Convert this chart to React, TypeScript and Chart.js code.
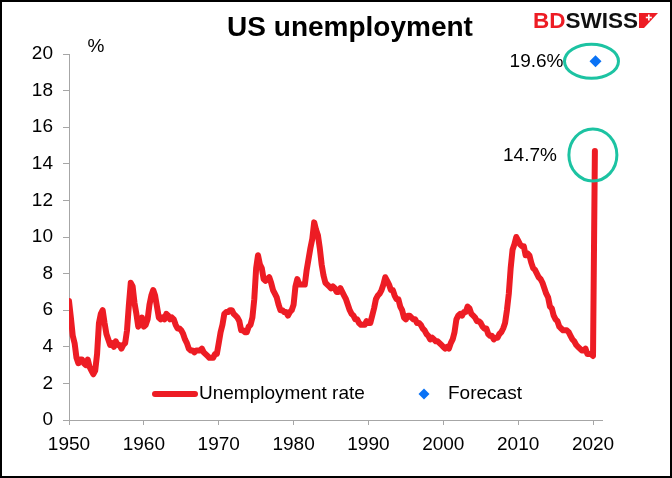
import React, { useEffect, useRef } from "react";
import { Chart, registerables } from "chart.js";

Chart.register(...registerables);

// Quarterly US unemployment rate (%), starting 1950 Q1
const firstYear = 1950;
const quarterlyRate = [
  6.5, 5.6, 4.6, 4.2, // 1950
  3.4, 3.1, 3.3, 3.3, // 1951
  3.1, 3.0, 3.3, 2.9, // 1952
  2.7, 2.5, 2.7, 3.6, // 1953
  5.3, 5.8, 6.0, 5.3, // 1954
  4.7, 4.4, 4.1, 4.2, // 1955
  4.0, 4.3, 4.1, 4.1, // 1956
  3.9, 4.1, 4.2, 4.9, // 1957
  6.3, 7.5, 7.3, 6.4, // 1958
  5.8, 5.1, 5.3, 5.6, // 1959
  5.1, 5.2, 5.5, 6.3, // 1960
  6.8, 7.1, 6.8, 6.2, // 1961
  5.6, 5.5, 5.6, 5.5, // 1962
  5.8, 5.7, 5.5, 5.6, // 1963
  5.5, 5.2, 5.0, 5.0, // 1964
  4.9, 4.7, 4.4, 4.2, // 1965
  3.9, 3.8, 3.8, 3.7, // 1966
  3.8, 3.8, 3.8, 3.9, // 1967
  3.7, 3.6, 3.5, 3.4, // 1968
  3.4, 3.4, 3.6, 3.6, // 1969
  4.2, 4.8, 5.2, 5.8, // 1970
  5.9, 5.9, 6.0, 6.0, // 1971
  5.8, 5.7, 5.6, 5.4, // 1972
  4.9, 4.9, 4.8, 4.8, // 1973
  5.1, 5.2, 5.6, 6.6, // 1974
  8.3, 9.0, 8.5, 8.3, // 1975
  7.7, 7.6, 7.7, 7.8, // 1976
  7.5, 7.1, 6.9, 6.7, // 1977
  6.3, 6.0, 6.0, 5.9, // 1978
  5.9, 5.7, 5.9, 6.0, // 1979
  6.3, 7.3, 7.7, 7.4, // 1980
  7.4, 7.4, 7.4, 8.2, // 1981
  8.8, 9.4, 9.9, 10.8, // 1982
  10.4, 10.1, 9.4, 8.5, // 1983
  7.9, 7.5, 7.4, 7.3, // 1984
  7.2, 7.3, 7.2, 7.0, // 1985
  7.0, 7.2, 7.0, 6.8, // 1986
  6.6, 6.3, 6.0, 5.8, // 1987
  5.7, 5.5, 5.5, 5.3, // 1988
  5.2, 5.2, 5.2, 5.4, // 1989
  5.3, 5.3, 5.7, 6.1, // 1990
  6.6, 6.8, 6.9, 7.1, // 1991
  7.4, 7.8, 7.6, 7.4, // 1992
  7.1, 7.1, 6.8, 6.6, // 1993
  6.6, 6.2, 6.0, 5.6, // 1994
  5.5, 5.7, 5.7, 5.6, // 1995
  5.5, 5.5, 5.3, 5.3, // 1996
  5.2, 5.0, 4.9, 4.7, // 1997
  4.6, 4.4, 4.5, 4.4, // 1998
  4.3, 4.3, 4.2, 4.1, // 1999
  4.0, 3.9, 4.0, 3.9, // 2000
  4.2, 4.4, 4.8, 5.5, // 2001
  5.7, 5.8, 5.7, 5.9, // 2002
  5.9, 6.2, 6.1, 5.8, // 2003
  5.7, 5.6, 5.4, 5.4, // 2004
  5.3, 5.1, 5.0, 5.0, // 2005
  4.7, 4.6, 4.6, 4.4, // 2006
  4.5, 4.5, 4.7, 4.8, // 2007
  5.0, 5.3, 6.0, 6.9, // 2008
  8.3, 9.3, 9.6, 10.0, // 2009
  9.8, 9.6, 9.5, 9.5, // 2010
  9.0, 9.1, 9.0, 8.6, // 2011
  8.3, 8.2, 8.0, 7.8, // 2012
  7.7, 7.5, 7.2, 6.9, // 2013
  6.7, 6.2, 6.1, 5.7, // 2014
  5.5, 5.4, 5.1, 5.0, // 2015
  4.9, 4.9, 4.9, 4.8, // 2016
  4.6, 4.4, 4.3, 4.1, // 2017
  4.0, 3.9, 3.8, 3.8, // 2018
  3.9, 3.6, 3.6, 3.6, // 2019
  3.5, // 2020 Q1
];
const latestX = 2020.25;
const latestRate = 14.7;
const forecastX = 2020.33;
const forecastRate = 19.6;

const xTickValues = [1950, 1960, 1970, 1980, 1990, 2000, 2010, 2020];
const yTickValues = [0, 2, 4, 6, 8, 10, 12, 14, 16, 18, 20];

const titleText = "US unemployment";
const unitText = "%";
const latestLabel = "14.7%";
const forecastLabel = "19.6%";
const seriesNames = ["Unemployment rate", "Forecast"];

const RED = "#ED1C24";
const BLUE = "#0A72F5";
const TEAL = "#1CC3A2";
const AXIS = "#A6A6A6";
const FONT = '"Liberation Sans", Arial, sans-serif';

export default function App() {
  const ref = useRef<HTMLCanvasElement>(null);

  useEffect(() => {
    if (!ref.current) return;
    const lineData = quarterlyRate.map((v, i) => ({ x: firstYear + i / 4, y: v }));
    lineData.push({ x: latestX, y: latestRate });

    const overlay = {
      id: "overlay",
      beforeDraw(chart: any) {
        const ctx = chart.ctx;
        ctx.save();
        ctx.fillStyle = "#fff";
        ctx.fillRect(0, 0, chart.width, chart.height);
        ctx.restore();
      },
      afterDraw(chart: any) {
        const ctx = chart.ctx as CanvasRenderingContext2D;
        const xs = chart.scales.x;
        const ys = chart.scales.y;
        ctx.save();

        // title
        ctx.fillStyle = "#000";
        ctx.font = `bold 28px ${FONT}`;
        ctx.textAlign = "center";
        ctx.textBaseline = "alphabetic";
        ctx.fillText(titleText, 350, 36);

        // logo
        ctx.font = `bold 22.5px ${FONT}`;
        ctx.textAlign = "left";
        ctx.fillStyle = RED;
        ctx.fillText("BD", 533, 28);
        const bdW = ctx.measureText("BD").width;
        ctx.fillStyle = "#111";
        ctx.fillText("SWISS", 533 + bdW, 28);
        const swW = ctx.measureText("SWISS").width;
        const fx0 = 533 + bdW + swW + 1;
        ctx.fillStyle = RED;
        ctx.beginPath();
        ctx.moveTo(fx0, 13);
        ctx.lineTo(fx0 + 19, 13);
        ctx.lineTo(fx0 + 5, 28);
        ctx.lineTo(fx0, 28);
        ctx.closePath();
        ctx.fill();
        ctx.fillStyle = "#fff";
        ctx.fillRect(fx0 + 9, 14.5, 1.6, 6);
        ctx.fillRect(fx0 + 6.8, 16.7, 6, 1.6);

        // unit
        ctx.fillStyle = "#000";
        ctx.font = `19px ${FONT}`;
        ctx.textAlign = "center";
        ctx.textBaseline = "middle";
        ctx.fillText(unitText, 96, 47);

        // annotations
        const fpx = xs.getPixelForValue(forecastX);
        const fpy = ys.getPixelForValue(forecastRate);
        const lpx = xs.getPixelForValue(latestX);
        const lpy = ys.getPixelForValue(latestRate);
        ctx.strokeStyle = TEAL;
        ctx.lineWidth = 3;
        ctx.beginPath();
        ctx.ellipse(fpx - 4, fpy, 27, 17, 0, 0, Math.PI * 2);
        ctx.stroke();
        ctx.beginPath();
        ctx.ellipse(lpx - 2, lpy + 4, 24, 26, 0, 0, Math.PI * 2);
        ctx.stroke();

        ctx.fillStyle = "#000";
        ctx.textAlign = "right";
        ctx.fillText(forecastLabel, fpx - 32, fpy);
        ctx.fillText(latestLabel, lpx - 38, lpy + 5);

        // legend
        const ly = 394;
        ctx.strokeStyle = RED;
        ctx.lineWidth = 6;
        ctx.lineCap = "round";
        ctx.beginPath();
        ctx.moveTo(155, ly);
        ctx.lineTo(195, ly);
        ctx.stroke();
        ctx.textAlign = "left";
        ctx.fillStyle = "#000";
        ctx.fillText(seriesNames[0], 199, ly);
        ctx.fillStyle = BLUE;
        ctx.beginPath();
        ctx.moveTo(424, ly - 5.5);
        ctx.lineTo(429.5, ly);
        ctx.lineTo(424, ly + 5.5);
        ctx.lineTo(418.5, ly);
        ctx.closePath();
        ctx.fill();
        ctx.fillStyle = "#000";
        ctx.fillText(seriesNames[1], 448, ly);

        // frame
        ctx.strokeStyle = "#000";
        ctx.lineWidth = 2;
        ctx.strokeRect(1, 1, chart.width - 2, chart.height - 2);
        ctx.restore();
      },
    };

    const chart = new Chart(ref.current, {
      type: "line",
      data: {
        datasets: [
          {
            label: seriesNames[0],
            data: lineData,
            borderColor: RED,
            backgroundColor: RED,
            borderWidth: 6,
            pointRadius: 0,
            tension: 0,
            borderJoinStyle: "round",
            borderCapStyle: "round",
          },
          {
            label: seriesNames[1],
            data: [{ x: forecastX, y: forecastRate }],
            showLine: false,
            pointStyle: "rectRot",
            pointRadius: 6,
            backgroundColor: BLUE,
            borderColor: BLUE,
            borderWidth: 0,
          },
        ],
      },
      options: {
        responsive: false,
        animation: false,
        devicePixelRatio: 1,
        layout: { padding: { left: 0, right: 70, top: 54, bottom: 0 } },
        plugins: {
          legend: { display: false },
          tooltip: { enabled: false },
          title: { display: false },
        },
        scales: {
          x: {
            type: "linear",
            min: 1950,
            max: 2021.2,
            afterBuildTicks: (s: any) => {
              s.ticks = xTickValues.map((v) => ({ value: v }));
            },
            afterFit: (s: any) => {
              s.height = 58;
            },
            ticks: {
              font: { family: FONT, size: 19 },
              color: "#000",
              padding: 8,
              maxRotation: 0,
              autoSkip: false,
              callback: (v: any) => String(v),
            },
            grid: { display: true, drawOnChartArea: false, drawTicks: true, tickLength: 5, color: AXIS },
            border: { color: AXIS, width: 1 },
          },
          y: {
            type: "linear",
            min: 0,
            max: 20,
            afterBuildTicks: (s: any) => {
              s.ticks = yTickValues.map((v) => ({ value: v }));
            },
            afterFit: (s: any) => {
              s.width = 69;
            },
            ticks: {
              font: { family: FONT, size: 19 },
              color: "#000",
              padding: 10,
              callback: (v: any) => String(v),
            },
            grid: { display: true, drawOnChartArea: false, drawTicks: true, tickLength: 6, color: AXIS },
            border: { color: AXIS, width: 1 },
          },
        },
      },
      plugins: [overlay],
    } as any);

    return () => chart.destroy();
  }, []);

  return (
    <div style={{ position: "fixed", left: 0, top: 0, width: 672, height: 478, background: "#fff" }}>
      <canvas ref={ref} width={672} height={478} style={{ display: "block", width: 672, height: 478 }} />
    </div>
  );
}
